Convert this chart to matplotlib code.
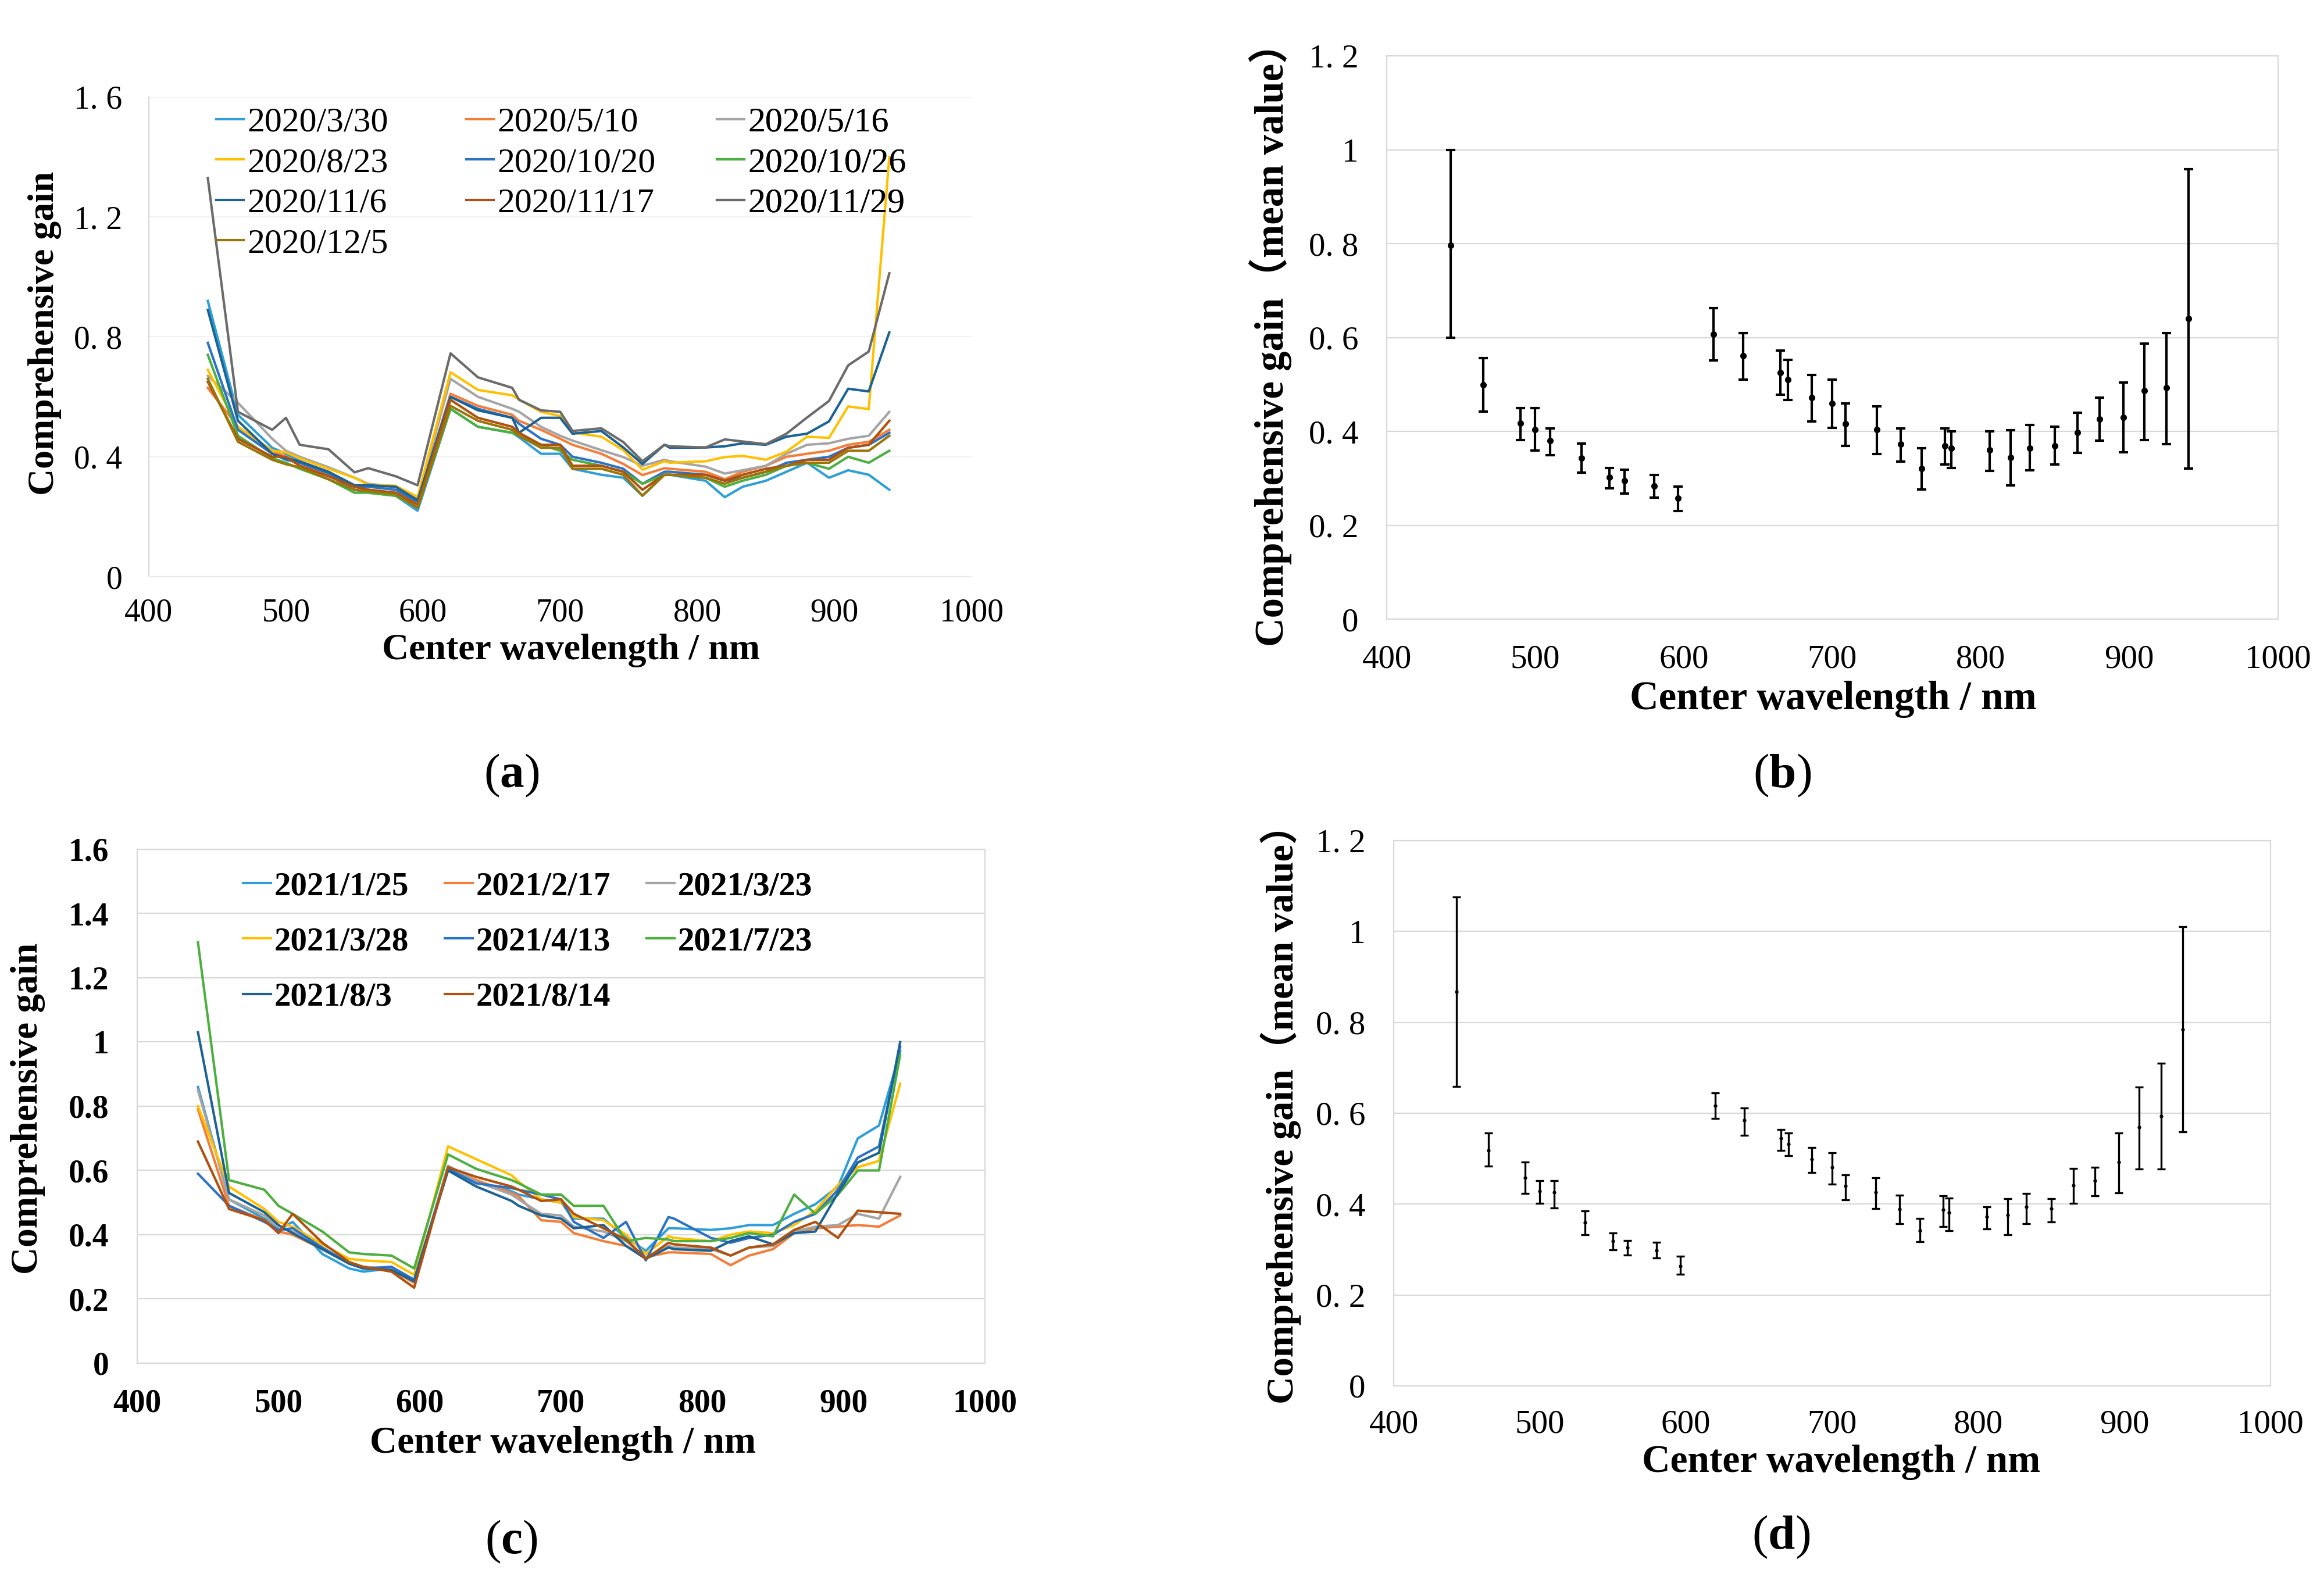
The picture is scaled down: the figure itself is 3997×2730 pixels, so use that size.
import matplotlib
matplotlib.use("Agg")
import matplotlib.pyplot as plt

# fonts: serif for latin text, CJK fallback for the full-width brackets
plt.rcParams['font.family'] = ['Liberation Serif', 'Noto Sans CJK SC', 'DejaVu Sans']
plt.rcParams['mathtext.fontset'] = 'custom'
plt.rcParams['mathtext.rm'] = 'Liberation Serif'
plt.rcParams['mathtext.bf'] = 'Liberation Serif:bold'

# ---------------- data ----------------
wavelength = [443, 465, 490, 500, 510, 531, 550, 560, 580, 596, 620, 640, 665, 670, 686, 700,
              709, 730, 746, 760, 776, 780, 806, 820, 833, 850, 865, 880, 896, 910, 925, 940]

# panel (a), 2020 dates
dates_a = ["2020/3/30", "2020/5/10", "2020/5/16", "2020/8/23", "2020/10/20",
           "2020/10/26", "2020/11/6", "2020/11/17", "2020/11/29", "2020/12/5"]
a_0330 = [0.92, 0.54, 0.43, 0.41, 0.385, 0.34, 0.29, 0.28, 0.27, 0.22, 0.56, 0.50, 0.48, 0.465, 0.41, 0.41,
          0.36, 0.34, 0.33, 0.27, 0.34, 0.34, 0.32, 0.265, 0.30, 0.32, 0.35, 0.38, 0.33, 0.355, 0.34, 0.29]
a_0510 = [0.63, 0.50, 0.42, 0.40, 0.38, 0.34, 0.30, 0.29, 0.28, 0.25, 0.61, 0.57, 0.54, 0.52, 0.49, 0.46,
          0.44, 0.41, 0.376, 0.339, 0.362, 0.36, 0.35, 0.325, 0.35, 0.37, 0.40, 0.41, 0.42, 0.44, 0.45, 0.49]
a_0516 = [0.67, 0.58, 0.46, 0.42, 0.40, 0.365, 0.33, 0.31, 0.30, 0.26, 0.66, 0.60, 0.56, 0.55, 0.50, 0.47,
          0.454, 0.422, 0.399, 0.37, 0.39, 0.385, 0.367, 0.344, 0.355, 0.37, 0.41, 0.44, 0.445, 0.46, 0.47, 0.55]
a_0823 = [0.69, 0.50, 0.42, 0.415, 0.395, 0.36, 0.33, 0.307, 0.303, 0.266, 0.682, 0.623, 0.605, 0.591, 0.55, 0.536,
          0.481, 0.467, 0.422, 0.357, 0.385, 0.38, 0.385, 0.399, 0.403, 0.39, 0.417, 0.467, 0.463, 0.568, 0.559, 1.40]
a_1020 = [0.78, 0.49, 0.41, 0.39, 0.38, 0.345, 0.30, 0.30, 0.29, 0.25, 0.60, 0.56, 0.53, 0.51, 0.46, 0.44,
          0.40, 0.38, 0.36, 0.31, 0.35, 0.35, 0.34, 0.32, 0.33, 0.35, 0.38, 0.39, 0.40, 0.43, 0.44, 0.48]
a_1026 = [0.74, 0.47, 0.395, 0.38, 0.36, 0.325, 0.28, 0.28, 0.27, 0.23, 0.56, 0.50, 0.48, 0.47, 0.44, 0.42,
          0.39, 0.37, 0.35, 0.31, 0.34, 0.34, 0.33, 0.30, 0.32, 0.34, 0.37, 0.38, 0.36, 0.40, 0.38, 0.42]
a_1106 = [0.89, 0.52, 0.41, 0.395, 0.385, 0.35, 0.305, 0.305, 0.30, 0.255, 0.60, 0.555, 0.53, 0.48, 0.53, 0.53,
          0.477, 0.486, 0.431, 0.376, 0.44, 0.43, 0.431, 0.435, 0.445, 0.44, 0.467, 0.477, 0.518, 0.627, 0.618, 0.815]
a_1117 = [0.65, 0.46, 0.40, 0.40, 0.37, 0.335, 0.30, 0.29, 0.28, 0.24, 0.59, 0.53, 0.50, 0.48, 0.44, 0.44,
          0.37, 0.37, 0.35, 0.29, 0.34, 0.34, 0.34, 0.32, 0.34, 0.36, 0.37, 0.39, 0.39, 0.43, 0.44, 0.52]
a_1129 = [1.33, 0.55, 0.49, 0.53, 0.44, 0.425, 0.348, 0.362, 0.335, 0.305, 0.745, 0.665, 0.63, 0.59, 0.555, 0.55,
          0.486, 0.495, 0.449, 0.385, 0.44, 0.435, 0.431, 0.458, 0.451, 0.442, 0.477, 0.531, 0.586, 0.705, 0.751, 1.012]
a_1205 = [0.66, 0.45, 0.39, 0.375, 0.365, 0.325, 0.29, 0.285, 0.275, 0.23, 0.57, 0.52, 0.49, 0.47, 0.43, 0.43,
          0.36, 0.36, 0.34, 0.27, 0.34, 0.34, 0.33, 0.31, 0.33, 0.35, 0.37, 0.38, 0.38, 0.42, 0.42, 0.47]

# panel (c), 2021 dates
dates_c = ["2021/1/25", "2021/2/17", "2021/3/23", "2021/3/28",
           "2021/4/13", "2021/7/23", "2021/8/3", "2021/8/14"]
c_0125 = [0.86, 0.51, 0.45, 0.415, 0.44, 0.34, 0.295, 0.285, 0.295, 0.255, 0.61, 0.565, 0.535, 0.525, 0.51, 0.50,
          0.45, 0.45, 0.39, 0.35, 0.42, 0.42, 0.415, 0.42, 0.43, 0.43, 0.465, 0.495, 0.55, 0.70, 0.74, 0.97]
c_0217 = [0.79, 0.49, 0.445, 0.41, 0.40, 0.355, 0.31, 0.30, 0.29, 0.25, 0.61, 0.57, 0.53, 0.52, 0.445, 0.44,
          0.405, 0.38, 0.365, 0.33, 0.345, 0.345, 0.34, 0.305, 0.335, 0.355, 0.405, 0.42, 0.425, 0.43, 0.425, 0.46]
c_0323 = [0.85, 0.51, 0.46, 0.42, 0.41, 0.36, 0.31, 0.30, 0.295, 0.255, 0.615, 0.565, 0.525, 0.51, 0.465, 0.46,
          0.425, 0.41, 0.38, 0.33, 0.365, 0.36, 0.355, 0.335, 0.36, 0.365, 0.41, 0.425, 0.43, 0.465, 0.45, 0.58]
c_0328 = [0.80, 0.55, 0.48, 0.44, 0.425, 0.37, 0.325, 0.32, 0.315, 0.275, 0.675, 0.635, 0.585, 0.565, 0.51, 0.50,
          0.455, 0.445, 0.40, 0.34, 0.395, 0.39, 0.38, 0.40, 0.41, 0.405, 0.43, 0.475, 0.555, 0.61, 0.63, 0.87]
c_0413 = [0.59, 0.49, 0.44, 0.415, 0.42, 0.36, 0.31, 0.295, 0.30, 0.26, 0.605, 0.56, 0.545, 0.54, 0.525, 0.51,
          0.44, 0.39, 0.44, 0.32, 0.455, 0.45, 0.39, 0.375, 0.39, 0.40, 0.44, 0.465, 0.54, 0.64, 0.675, 0.985]
c_0723 = [1.31, 0.57, 0.54, 0.49, 0.465, 0.41, 0.345, 0.34, 0.335, 0.295, 0.65, 0.605, 0.57, 0.56, 0.525, 0.525,
          0.49, 0.49, 0.38, 0.39, 0.385, 0.38, 0.38, 0.39, 0.405, 0.395, 0.525, 0.465, 0.525, 0.60, 0.60, 0.96]
c_0803 = [1.03, 0.53, 0.47, 0.43, 0.405, 0.355, 0.31, 0.295, 0.29, 0.255, 0.60, 0.55, 0.505, 0.49, 0.46, 0.45,
          0.42, 0.43, 0.365, 0.325, 0.36, 0.355, 0.35, 0.38, 0.395, 0.37, 0.405, 0.41, 0.53, 0.625, 0.655, 1.00]
c_0814 = [0.69, 0.48, 0.445, 0.405, 0.465, 0.375, 0.315, 0.30, 0.285, 0.235, 0.61, 0.58, 0.55, 0.54, 0.505, 0.51,
          0.465, 0.42, 0.385, 0.325, 0.375, 0.37, 0.36, 0.335, 0.36, 0.37, 0.415, 0.44, 0.39, 0.475, 0.47, 0.465]

# panel (b): mean value with range of 2020 curves
b_mean = [0.797, 0.499, 0.418, 0.404, 0.380, 0.343, 0.302, 0.295, 0.284, 0.258, 0.607, 0.561, 0.526, 0.510, 0.472, 0.460,
          0.416, 0.404, 0.373, 0.321, 0.369, 0.364, 0.361, 0.345, 0.365, 0.369, 0.398, 0.427, 0.430, 0.487, 0.493, 0.641]
b_upper = [0.999, 0.556, 0.450, 0.450, 0.406, 0.374, 0.322, 0.319, 0.307, 0.283, 0.663, 0.610, 0.573, 0.553, 0.521, 0.510,
           0.460, 0.454, 0.406, 0.364, 0.406, 0.400, 0.400, 0.403, 0.414, 0.410, 0.440, 0.472, 0.504, 0.587, 0.610, 0.959]
b_lower = [0.600, 0.442, 0.382, 0.360, 0.350, 0.313, 0.279, 0.268, 0.259, 0.231, 0.552, 0.510, 0.478, 0.467, 0.421, 0.408,
           0.369, 0.352, 0.336, 0.277, 0.330, 0.323, 0.316, 0.285, 0.318, 0.330, 0.355, 0.380, 0.356, 0.382, 0.373, 0.321]

# panel (d): mean value with range of 2021 curves
d_mean = [0.868, 0.518, 0.458, 0.428, 0.426, 0.359, 0.319, 0.304, 0.298, 0.264, 0.617, 0.585, 0.545, 0.532, 0.499, 0.481,
          0.440, 0.426, 0.389, 0.342, 0.387, 0.381, 0.372, 0.376, 0.394, 0.390, 0.442, 0.451, 0.493, 0.569, 0.594, 0.784]
d_upper = [1.076, 0.556, 0.493, 0.451, 0.451, 0.385, 0.336, 0.320, 0.316, 0.285, 0.645, 0.612, 0.564, 0.557, 0.525, 0.513,
           0.465, 0.458, 0.419, 0.368, 0.418, 0.413, 0.394, 0.412, 0.423, 0.412, 0.479, 0.481, 0.557, 0.657, 0.710, 1.011]
d_lower = [0.659, 0.484, 0.423, 0.402, 0.392, 0.333, 0.299, 0.288, 0.281, 0.246, 0.589, 0.551, 0.518, 0.506, 0.469, 0.444,
           0.410, 0.390, 0.357, 0.317, 0.350, 0.342, 0.345, 0.333, 0.357, 0.361, 0.402, 0.418, 0.425, 0.477, 0.477, 0.559]

x_ticks = [400, 500, 600, 700, 800, 900, 1000]
y_ticks_a = [0, 0.4, 0.8, 1.2, 1.6]
y_labels_a = ["0", "0. 4", "0. 8", "1. 2", "1. 6"]
y_ticks_c = [0, 0.2, 0.4, 0.6, 0.8, 1.0, 1.2, 1.4, 1.6]
y_labels_c = ["0", "0.2", "0.4", "0.6", "0.8", "1", "1.2", "1.4", "1.6"]
y_ticks_bd = [0, 0.2, 0.4, 0.6, 0.8, 1.0, 1.2]
y_labels_bd = ["0", "0. 2", "0. 4", "0. 6", "0. 8", "1", "1. 2"]

# excel-like series colours
colors = ["#2E9FD9", "#F47D38", "#A5A5A5", "#FFC000", "#2C72C7",
          "#4DAF3F", "#1C6394", "#B0510F", "#6B6B6B", "#9A7608"]

GRID = "#d9d9d9"


def style_axes(ax, yticks, ylabels, ylim, bold, tick_size, xpad, ypad, grid_color, spine_color):
    """Common axis styling: no tick marks, light grid, serif labels."""
    ax.set_xlim(400, 1000)
    ax.set_ylim(*ylim)
    ax.set_xticks(x_ticks)
    ax.set_xticklabels([str(t) for t in x_ticks])
    ax.set_yticks(yticks)
    ax.set_yticklabels(ylabels)
    weight = "bold" if bold else "normal"
    for lab in ax.get_xticklabels() + ax.get_yticklabels():
        lab.set_fontsize(tick_size)
        lab.set_fontweight(weight)
    ax.tick_params(axis="x", length=0, pad=xpad)
    ax.tick_params(axis="y", length=0, pad=ypad)
    ax.grid(axis="y", color=grid_color, linewidth=1.6)
    ax.set_axisbelow(True)
    for side, sp in ax.spines.items():
        sp.set_color(spine_color)
        sp.set_linewidth(1.6)


def set_labels(ax, ylabel, xy_x, xy_y, size, ysize=None):
    """Bold axis labels placed in axes coordinates."""
    fam = ["Liberation Serif", "Noto Sans CJK SC"]
    ax.set_xlabel("Center wavelength / nm", fontsize=size, fontweight="bold", family=fam)
    ax.set_ylabel(ylabel, fontsize=ysize if ysize else size, fontweight="bold", family=fam)
    ax.xaxis.set_label_coords(*xy_x)
    ax.yaxis.set_label_coords(*xy_y)
    ax.xaxis.label.set_verticalalignment("center")
    ax.yaxis.label.set_verticalalignment("center")


def column_legends(ax, handles, labels, col_x, top_y, prop, handlelength, labelspacing):
    """Excel fills the legend row by row; draw one legend per column at fixed x."""
    ncol = len(col_x)
    for j, x in enumerate(col_x):
        idx = list(range(j, len(handles), ncol))
        leg = ax.legend([handles[i] for i in idx], [labels[i] for i in idx],
                        loc="upper left", bbox_to_anchor=(x, top_y), bbox_transform=fig.transFigure,
                        frameon=False, prop=prop, handlelength=handlelength, handletextpad=0.1,
                        labelspacing=labelspacing, borderpad=0, borderaxespad=0)
        ax.add_artist(leg)


fig = plt.figure(figsize=(39.98, 27.30), dpi=100)

# ---------------- (a) ----------------
ax_a = fig.add_axes([0.06403, 0.63663, 0.35393, 0.30220])
series_a = [a_0330, a_0510, a_0516, a_0823, a_1020, a_1026, a_1106, a_1117, a_1129, a_1205]
handles_a = []
for vals, lab, col in zip(series_a, dates_a, colors):
    h, = ax_a.plot(wavelength, vals, color=col, linewidth=3.0, label=lab)
    handles_a.append(h)
style_axes(ax_a, y_ticks_a, y_labels_a, (0, 1.6), False, 40, 26, 33, "#f2f2f2", "#ebebeb")
ax_a.spines["top"].set_visible(False)
ax_a.spines["right"].set_visible(False)
ax_a.spines["left"].set_color("#d9d9d9")
set_labels(ax_a, "Comprehensive gain", (0.513, -0.154), (-0.1265, 0.508), 46)
column_legends(ax_a, handles_a, dates_a, [0.0930, 0.2006, 0.3084], 0.9326,
               {"family": "Liberation Serif", "size": 43}, 0.79, 0.245)

# ---------------- (c) ----------------
ax_c = fig.add_axes([0.05903, 0.14103, 0.36468, 0.32381])
series_c = [c_0125, c_0217, c_0323, c_0328, c_0413, c_0723, c_0803, c_0814]
handles_c = []
for vals, lab, col in zip(series_c, dates_c, colors):
    h, = ax_c.plot(wavelength, vals, color=col, linewidth=3.0, label=lab)
    handles_c.append(h)
style_axes(ax_c, y_ticks_c, y_labels_c, (0, 1.6), True, 40, 31, 35, GRID, GRID)
set_labels(ax_c, "Comprehensive gain", (0.502, -0.156), (-0.129, 0.4955), 47)
column_legends(ax_c, handles_c, dates_c, [0.1046, 0.1913, 0.2781], 0.4509,
               {"family": "Liberation Serif", "size": 41, "weight": "bold"}, 0.84, 0.76)

# ---------------- (b) ----------------
ax_b = fig.add_axes([0.59655, 0.60971, 0.38332, 0.35513])
err_b = [[m - lo for m, lo in zip(b_mean, b_lower)], [hi - m for m, hi in zip(b_mean, b_upper)]]
ax_b.errorbar(wavelength, b_mean, yerr=err_b, fmt="o", color="black", markersize=7,
              elinewidth=3.0, capsize=6, capthick=3.0)
style_axes(ax_b, y_ticks_bd, y_labels_bd, (0, 1.2), False, 41, 31, 35, GRID, GRID)
set_labels(ax_b, "Comprehensive gain（mean value）", (0.501, -0.142), (-0.1305, 0.505), 49.5)

# ---------------- (d) ----------------
ax_d = fig.add_axes([0.59955, 0.12674, 0.37719, 0.34359])
err_d = [[m - lo for m, lo in zip(d_mean, d_lower)], [hi - m for m, hi in zip(d_mean, d_upper)]]
ax_d.errorbar(wavelength, d_mean, yerr=err_d, fmt="o", color="black", markersize=3.5,
              elinewidth=2.4, capsize=5, capthick=2.4)
style_axes(ax_d, y_ticks_bd, y_labels_bd, (0, 1.2), False, 41, 29, 35, GRID, GRID)
set_labels(ax_d, "Comprehensive gain（mean value）", (0.51, -0.14), (-0.1286, 0.5155), 48.5, ysize=47.5)

# panel letters
for x, y, letter in [(0.220, 0.5114, "a"), (0.7666, 0.5114, "b"), (0.220, 0.0286, "c"), (0.7661, 0.0315, "d")]:
    fig.text(x, y, r"($\mathbf{%s}$)" % letter, ha="center", va="center", fontsize=60)

fig.savefig("out.png", dpi=100)
